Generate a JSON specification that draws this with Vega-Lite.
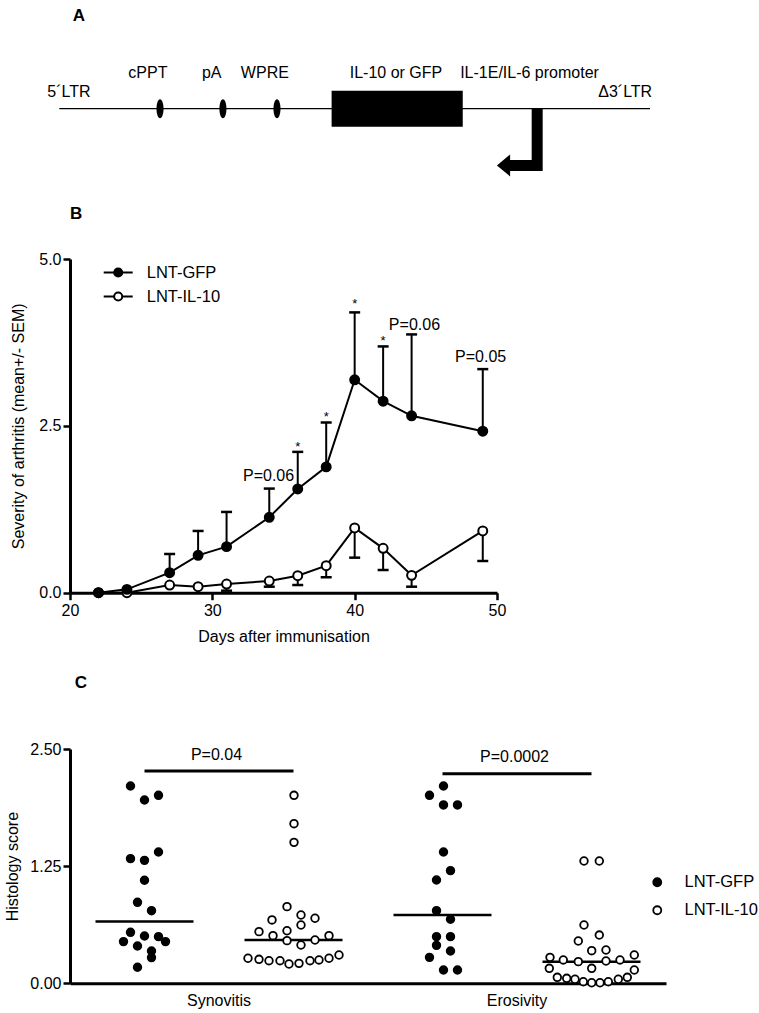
{
  "$schema": "https://vega.github.io/schema/vega-lite/v6.json",
  "width": 689,
  "height": 1013,
  "autosize": {"type": "none"},
  "padding": {"left": 70, "top": 0, "right": 0, "bottom": 0},
  "background": "white",
  "config": {
    "font": "Liberation Sans",
    "view": {"stroke": null},
    "axis": {"domainColor": "black", "domainWidth": 3, "tickColor": "black", "tickWidth": 2.5, "tickSize": 7, "labelColor": "black", "labelFontSize": 16, "labelFont": "Liberation Sans", "titleColor": "black", "titleFontSize": 16, "titleFontWeight": "normal", "titleFont": "Liberation Sans", "grid": false, "labelFlush": false, "labelOverlap": false},
    "legend": {"labelFont": "Liberation Sans", "labelFontSize": 16.5, "labelColor": "black"},
    "text": {"font": "Liberation Sans", "color": "black"}
  },
  "datasets": {
    "vector": [{"start": 0, "end": 100}],
    "gene": [{"start": 46.1, "end": 68.3, "label": "IL-10 or GFP"}],
    "elements": [{"name": "cPPT", "pos": 17.05}, {"name": "pA", "pos": 27.7}, {"name": "WPRE", "pos": 36.85}],
    "promoter": [{"x": 80.9, "y": 0, "step": 1}, {"x": 80.9, "y": -3.15, "step": 2}, {"x": 76.3, "y": -3.15, "step": 3}],
    "promoterHead": [{"x": 75.2, "y": -3.15}],
    "labels": [
      {"text": "5´LTR", "pos": 1.64, "level": 0.667},
      {"text": "cPPT", "pos": 15.0, "level": 1.71},
      {"text": "pA", "pos": 25.8, "level": 1.71},
      {"text": "WPRE", "pos": 34.8, "level": 1.71},
      {"text": "IL-10 or GFP", "pos": 57.0, "level": 1.71},
      {"text": "IL-1E/IL-6 promoter", "pos": 79.6, "level": 1.71},
      {"text": "Δ3´LTR", "pos": 95.8, "level": 0.667}
    ],
    "panels": [{"panel": "A", "pos": 3.33, "level": 4.87}, {"panel": "B", "pos": 2.83, "level": -6.13}, {"panel": "C", "pos": 3.67, "level": -32.18}],
    "arthritis": [
      {"day": 22, "group": "LNT-IL-10", "mean": 0, "bar": null},
      {"day": 24, "group": "LNT-IL-10", "mean": 0, "bar": null},
      {"day": 27, "group": "LNT-IL-10", "mean": 0.115, "bar": null},
      {"day": 29, "group": "LNT-IL-10", "mean": 0.09, "bar": null},
      {"day": 31, "group": "LNT-IL-10", "mean": 0.13, "bar": 0.03},
      {"day": 34, "group": "LNT-IL-10", "mean": 0.175, "bar": 0.09},
      {"day": 36, "group": "LNT-IL-10", "mean": 0.255, "bar": 0.115},
      {"day": 38, "group": "LNT-IL-10", "mean": 0.405, "bar": 0.23},
      {"day": 40, "group": "LNT-IL-10", "mean": 0.97, "bar": 0.525},
      {"day": 42, "group": "LNT-IL-10", "mean": 0.665, "bar": 0.34},
      {"day": 44, "group": "LNT-IL-10", "mean": 0.26, "bar": 0.09},
      {"day": 49, "group": "LNT-IL-10", "mean": 0.925, "bar": 0.475},
      {"day": 22, "group": "LNT-GFP", "mean": 0, "bar": null},
      {"day": 24, "group": "LNT-GFP", "mean": 0.05, "bar": null},
      {"day": 27, "group": "LNT-GFP", "mean": 0.30, "bar": 0.58},
      {"day": 29, "group": "LNT-GFP", "mean": 0.56, "bar": 0.925},
      {"day": 31, "group": "LNT-GFP", "mean": 0.69, "bar": 1.21},
      {"day": 34, "group": "LNT-GFP", "mean": 1.13, "bar": 1.56},
      {"day": 36, "group": "LNT-GFP", "mean": 1.555, "bar": 2.11},
      {"day": 38, "group": "LNT-GFP", "mean": 1.885, "bar": 2.55},
      {"day": 40, "group": "LNT-GFP", "mean": 3.19, "bar": 4.20},
      {"day": 42, "group": "LNT-GFP", "mean": 2.87, "bar": 3.69},
      {"day": 44, "group": "LNT-GFP", "mean": 2.65, "bar": 3.87},
      {"day": 49, "group": "LNT-GFP", "mean": 2.42, "bar": 3.35}
    ],
    "pvals": [{"day": 33.95, "y": 1.67, "label": "P=0.06"}, {"day": 44.2, "y": 3.94, "label": "P=0.06"}, {"day": 48.85, "y": 3.45, "label": "P=0.05"}],
    "stars": [{"day": 36, "y": 2.13, "label": "*"}, {"day": 38, "y": 2.58, "label": "*"}, {"day": 40, "y": 4.27, "label": "*"}, {"day": 42, "y": 3.71, "label": "*"}],
    "sig": [
      {"from": "Synovitis LNT-GFP", "to": "Synovitis LNT-IL-10", "y": 2.266, "label": "P=0.04", "label_y": 2.383},
      {"from": "Erosivity LNT-GFP", "to": "Erosivity LNT-IL-10", "y": 2.237, "label": "P=0.0002", "label_y": 2.365}
    ],
    "histology": [
      {"cat": "Synovitis LNT-GFP", "group": "LNT-GFP", "score": 2.105, "jitter": -14},
      {"cat": "Synovitis LNT-GFP", "group": "LNT-GFP", "score": 1.956, "jitter": 0},
      {"cat": "Synovitis LNT-GFP", "group": "LNT-GFP", "score": 2.006, "jitter": 14},
      {"cat": "Synovitis LNT-GFP", "group": "LNT-GFP", "score": 1.33, "jitter": -14},
      {"cat": "Synovitis LNT-GFP", "group": "LNT-GFP", "score": 1.312, "jitter": 0},
      {"cat": "Synovitis LNT-GFP", "group": "LNT-GFP", "score": 1.401, "jitter": 14},
      {"cat": "Synovitis LNT-GFP", "group": "LNT-GFP", "score": 1.10, "jitter": 0},
      {"cat": "Synovitis LNT-GFP", "group": "LNT-GFP", "score": 0.864, "jitter": -7},
      {"cat": "Synovitis LNT-GFP", "group": "LNT-GFP", "score": 0.775, "jitter": 7},
      {"cat": "Synovitis LNT-GFP", "group": "LNT-GFP", "score": 0.544, "jitter": -14},
      {"cat": "Synovitis LNT-GFP", "group": "LNT-GFP", "score": 0.445, "jitter": -21},
      {"cat": "Synovitis LNT-GFP", "group": "LNT-GFP", "score": 0.505, "jitter": 0},
      {"cat": "Synovitis LNT-GFP", "group": "LNT-GFP", "score": 0.498, "jitter": 14},
      {"cat": "Synovitis LNT-GFP", "group": "LNT-GFP", "score": 0.445, "jitter": 21},
      {"cat": "Synovitis LNT-GFP", "group": "LNT-GFP", "score": 0.398, "jitter": -7},
      {"cat": "Synovitis LNT-GFP", "group": "LNT-GFP", "score": 0.345, "jitter": 7},
      {"cat": "Synovitis LNT-GFP", "group": "LNT-GFP", "score": 0.274, "jitter": 7},
      {"cat": "Synovitis LNT-GFP", "group": "LNT-GFP", "score": 0.171, "jitter": -7},
      {"cat": "Synovitis LNT-IL-10", "group": "LNT-IL-10", "score": 2.006, "jitter": 0.5},
      {"cat": "Synovitis LNT-IL-10", "group": "LNT-IL-10", "score": 1.703, "jitter": 0.5},
      {"cat": "Synovitis LNT-IL-10", "group": "LNT-IL-10", "score": 1.504, "jitter": 0.5},
      {"cat": "Synovitis LNT-IL-10", "group": "LNT-IL-10", "score": 0.818, "jitter": -6.5},
      {"cat": "Synovitis LNT-IL-10", "group": "LNT-IL-10", "score": 0.676, "jitter": -21.5},
      {"cat": "Synovitis LNT-IL-10", "group": "LNT-IL-10", "score": 0.729, "jitter": 7.5},
      {"cat": "Synovitis LNT-IL-10", "group": "LNT-IL-10", "score": 0.694, "jitter": 21.5},
      {"cat": "Synovitis LNT-IL-10", "group": "LNT-IL-10", "score": 0.622, "jitter": 7.5},
      {"cat": "Synovitis LNT-IL-10", "group": "LNT-IL-10", "score": 0.551, "jitter": -34.5},
      {"cat": "Synovitis LNT-IL-10", "group": "LNT-IL-10", "score": 0.561, "jitter": -6.5},
      {"cat": "Synovitis LNT-IL-10", "group": "LNT-IL-10", "score": 0.508, "jitter": -20.5},
      {"cat": "Synovitis LNT-IL-10", "group": "LNT-IL-10", "score": 0.455, "jitter": -6.5},
      {"cat": "Synovitis LNT-IL-10", "group": "LNT-IL-10", "score": 0.409, "jitter": 7.5},
      {"cat": "Synovitis LNT-IL-10", "group": "LNT-IL-10", "score": 0.462, "jitter": 21.5},
      {"cat": "Synovitis LNT-IL-10", "group": "LNT-IL-10", "score": 0.508, "jitter": 35.5},
      {"cat": "Synovitis LNT-IL-10", "group": "LNT-IL-10", "score": 0.267, "jitter": -45.5},
      {"cat": "Synovitis LNT-IL-10", "group": "LNT-IL-10", "score": 0.256, "jitter": -34.5},
      {"cat": "Synovitis LNT-IL-10", "group": "LNT-IL-10", "score": 0.241, "jitter": -24.5},
      {"cat": "Synovitis LNT-IL-10", "group": "LNT-IL-10", "score": 0.241, "jitter": -13.5},
      {"cat": "Synovitis LNT-IL-10", "group": "LNT-IL-10", "score": 0.206, "jitter": -4.5},
      {"cat": "Synovitis LNT-IL-10", "group": "LNT-IL-10", "score": 0.213, "jitter": 5.5},
      {"cat": "Synovitis LNT-IL-10", "group": "LNT-IL-10", "score": 0.241, "jitter": 16.5},
      {"cat": "Synovitis LNT-IL-10", "group": "LNT-IL-10", "score": 0.249, "jitter": 25.5},
      {"cat": "Synovitis LNT-IL-10", "group": "LNT-IL-10", "score": 0.267, "jitter": 35.5},
      {"cat": "Synovitis LNT-IL-10", "group": "LNT-IL-10", "score": 0.302, "jitter": 45.5},
      {"cat": "Erosivity LNT-GFP", "group": "LNT-GFP", "score": 2.105, "jitter": 1},
      {"cat": "Erosivity LNT-GFP", "group": "LNT-GFP", "score": 2.006, "jitter": -13},
      {"cat": "Erosivity LNT-GFP", "group": "LNT-GFP", "score": 1.903, "jitter": 1},
      {"cat": "Erosivity LNT-GFP", "group": "LNT-GFP", "score": 1.903, "jitter": 15},
      {"cat": "Erosivity LNT-GFP", "group": "LNT-GFP", "score": 1.401, "jitter": 1},
      {"cat": "Erosivity LNT-GFP", "group": "LNT-GFP", "score": 1.202, "jitter": 8},
      {"cat": "Erosivity LNT-GFP", "group": "LNT-GFP", "score": 1.102, "jitter": -6},
      {"cat": "Erosivity LNT-GFP", "group": "LNT-GFP", "score": 0.775, "jitter": -6},
      {"cat": "Erosivity LNT-GFP", "group": "LNT-GFP", "score": 0.683, "jitter": 8},
      {"cat": "Erosivity LNT-GFP", "group": "LNT-GFP", "score": 0.498, "jitter": -6},
      {"cat": "Erosivity LNT-GFP", "group": "LNT-GFP", "score": 0.498, "jitter": 8},
      {"cat": "Erosivity LNT-GFP", "group": "LNT-GFP", "score": 0.405, "jitter": -6},
      {"cat": "Erosivity LNT-GFP", "group": "LNT-GFP", "score": 0.277, "jitter": -13},
      {"cat": "Erosivity LNT-GFP", "group": "LNT-GFP", "score": 0.345, "jitter": 8},
      {"cat": "Erosivity LNT-GFP", "group": "LNT-GFP", "score": 0.142, "jitter": 1},
      {"cat": "Erosivity LNT-GFP", "group": "LNT-GFP", "score": 0.142, "jitter": 15},
      {"cat": "Erosivity LNT-IL-10", "group": "LNT-IL-10", "score": 1.305, "jitter": -7.5},
      {"cat": "Erosivity LNT-IL-10", "group": "LNT-IL-10", "score": 1.305, "jitter": 7.8},
      {"cat": "Erosivity LNT-IL-10", "group": "LNT-IL-10", "score": 0.622, "jitter": -7.5},
      {"cat": "Erosivity LNT-IL-10", "group": "LNT-IL-10", "score": 0.515, "jitter": 7.8},
      {"cat": "Erosivity LNT-IL-10", "group": "LNT-IL-10", "score": 0.451, "jitter": -13.2},
      {"cat": "Erosivity LNT-IL-10", "group": "LNT-IL-10", "score": 0.348, "jitter": 0.2},
      {"cat": "Erosivity LNT-IL-10", "group": "LNT-IL-10", "score": 0.355, "jitter": 14.5},
      {"cat": "Erosivity LNT-IL-10", "group": "LNT-IL-10", "score": 0.277, "jitter": -41.5},
      {"cat": "Erosivity LNT-IL-10", "group": "LNT-IL-10", "score": 0.249, "jitter": -28.2},
      {"cat": "Erosivity LNT-IL-10", "group": "LNT-IL-10", "score": 0.231, "jitter": -13.2},
      {"cat": "Erosivity LNT-IL-10", "group": "LNT-IL-10", "score": 0.160, "jitter": 0.2},
      {"cat": "Erosivity LNT-IL-10", "group": "LNT-IL-10", "score": 0.238, "jitter": 14.5},
      {"cat": "Erosivity LNT-IL-10", "group": "LNT-IL-10", "score": 0.249, "jitter": 28.5},
      {"cat": "Erosivity LNT-IL-10", "group": "LNT-IL-10", "score": 0.302, "jitter": 42.8},
      {"cat": "Erosivity LNT-IL-10", "group": "LNT-IL-10", "score": 0.160, "jitter": -42.2},
      {"cat": "Erosivity LNT-IL-10", "group": "LNT-IL-10", "score": 0.142, "jitter": 42.8},
      {"cat": "Erosivity LNT-IL-10", "group": "LNT-IL-10", "score": 0.064, "jitter": -34.2},
      {"cat": "Erosivity LNT-IL-10", "group": "LNT-IL-10", "score": 0.053, "jitter": -24.8},
      {"cat": "Erosivity LNT-IL-10", "group": "LNT-IL-10", "score": 0.043, "jitter": -16.5},
      {"cat": "Erosivity LNT-IL-10", "group": "LNT-IL-10", "score": 0.017, "jitter": -8.2},
      {"cat": "Erosivity LNT-IL-10", "group": "LNT-IL-10", "score": 0.006, "jitter": 0.2},
      {"cat": "Erosivity LNT-IL-10", "group": "LNT-IL-10", "score": 0.006, "jitter": 8.5},
      {"cat": "Erosivity LNT-IL-10", "group": "LNT-IL-10", "score": 0.017, "jitter": 16.8},
      {"cat": "Erosivity LNT-IL-10", "group": "LNT-IL-10", "score": 0.043, "jitter": 26.8},
      {"cat": "Erosivity LNT-IL-10", "group": "LNT-IL-10", "score": 0.064, "jitter": 35.8}
    ]
  },
  "layer": [
    {
      "layer": [
        {
          "data": {"name": "vector"},
          "mark": {"type": "rule", "stroke": "black", "strokeWidth": 1.3},
          "encoding": {
            "x": {"field": "start", "type": "quantitative", "scale": {"domain": [0, 100], "range": [-10.7, 580], "zero": false, "nice": false}, "axis": null},
            "x2": {"field": "end"},
            "y": {"datum": 0, "type": "quantitative", "scale": {"domain": [-6, 6], "range": [216.7, 0.7], "zero": false, "nice": false}, "axis": null}
          }
        },
        {
          "data": {"name": "gene"},
          "mark": {"type": "rect", "fill": "black"},
          "encoding": {
            "x": {"field": "start", "type": "quantitative", "scale": {"domain": [0, 100], "range": [-10.7, 580], "zero": false, "nice": false}, "axis": null},
            "x2": {"field": "end"},
            "y": {"datum": -1, "type": "quantitative", "scale": {"domain": [-6, 6], "range": [216.7, 0.7], "zero": false, "nice": false}, "axis": null},
            "y2": {"datum": 1}
          }
        },
        {
          "data": {"name": "elements"},
          "mark": {"type": "point", "shape": "M0,-1A0.37,1 0 1,1 0,1A0.37,1 0 1,1 0,-1Z", "size": 361, "filled": true, "fill": "black", "opacity": 1, "strokeWidth": 0},
          "encoding": {
            "x": {"field": "pos", "type": "quantitative", "scale": {"domain": [0, 100], "range": [-10.7, 580], "zero": false, "nice": false}, "axis": null},
            "y": {"datum": 0, "type": "quantitative", "scale": {"domain": [-6, 6], "range": [216.7, 0.7], "zero": false, "nice": false}, "axis": null}
          }
        },
        {
          "data": {"name": "promoter"},
          "mark": {"type": "line", "stroke": "black", "strokeWidth": 11, "strokeCap": "butt", "strokeJoin": "miter"},
          "encoding": {
            "x": {"field": "x", "type": "quantitative", "scale": {"domain": [0, 100], "range": [-10.7, 580], "zero": false, "nice": false}, "axis": null},
            "y": {"field": "y", "type": "quantitative", "scale": {"domain": [-6, 6], "range": [216.7, 0.7], "zero": false, "nice": false}, "axis": null},
            "order": {"field": "step"}
          }
        },
        {
          "data": {"name": "promoterHead"},
          "mark": {"type": "point", "shape": "M-0.6,0L0.6,-1L0.6,1Z", "size": 484, "filled": true, "fill": "black", "opacity": 1, "strokeWidth": 0},
          "encoding": {
            "x": {"field": "x", "type": "quantitative", "scale": {"domain": [0, 100], "range": [-10.7, 580], "zero": false, "nice": false}, "axis": null},
            "y": {"field": "y", "type": "quantitative", "scale": {"domain": [-6, 6], "range": [216.7, 0.7], "zero": false, "nice": false}, "axis": null}
          }
        },
        {
          "data": {"name": "labels"},
          "mark": {"type": "text", "fontSize": 16, "align": "center", "baseline": "alphabetic"},
          "encoding": {
            "x": {"field": "pos", "type": "quantitative", "scale": {"domain": [0, 100], "range": [-10.7, 580], "zero": false, "nice": false}, "axis": null},
            "y": {"field": "level", "type": "quantitative", "scale": {"domain": [-6, 6], "range": [216.7, 0.7], "zero": false, "nice": false}, "axis": null},
            "text": {"field": "text"}
          }
        },
        {
          "data": {"name": "panels"},
          "mark": {"type": "text", "fontSize": 17, "fontWeight": "bold", "align": "center", "baseline": "alphabetic"},
          "encoding": {
            "x": {"field": "pos", "type": "quantitative", "scale": {"domain": [0, 100], "range": [-10.7, 580], "zero": false, "nice": false}, "axis": null},
            "y": {"field": "level", "type": "quantitative", "scale": {"domain": [-6, 6], "range": [216.7, 0.7], "zero": false, "nice": false}, "axis": null},
            "text": {"field": "panel"}
          }
        }
      ]
    },
    {
      "layer": [
        {
          "data": {"name": "arthritis"},
          "transform": [{"filter": "isValid(datum.bar)"}],
          "mark": {"type": "rule", "stroke": "black", "strokeWidth": 2},
          "encoding": {
            "x": {"field": "day", "type": "quantitative", "scale": {"domain": [20, 50], "range": [0, 427], "zero": false, "nice": false}, "axis": {"orient": "bottom", "offset": -420.3, "values": [20, 30, 40, 50], "title": "Days after immunisation", "labelPadding": 3, "titlePadding": 10}},
            "y": {"field": "mean", "type": "quantitative", "scale": {"domain": [0, 5], "range": [592.7, 259], "zero": false, "nice": false}, "axis": {"orient": "left", "values": [0, 2.5, 5], "format": ".1f", "title": "Severity of arthritis (mean+/- SEM)", "labelPadding": 2, "titlePadding": 12}},
            "y2": {"field": "bar"}
          }
        },
        {
          "data": {"name": "arthritis"},
          "transform": [{"filter": "isValid(datum.bar)"}],
          "mark": {"type": "tick", "orient": "horizontal", "color": "black", "thickness": 2.5, "size": 11, "opacity": 1},
          "encoding": {
            "x": {"field": "day", "type": "quantitative", "scale": {"domain": [20, 50], "range": [0, 427], "zero": false, "nice": false}, "axis": {"orient": "bottom", "offset": -420.3, "values": [20, 30, 40, 50], "title": "Days after immunisation", "labelPadding": 3, "titlePadding": 10}},
            "y": {"field": "bar", "type": "quantitative", "scale": {"domain": [0, 5], "range": [592.7, 259], "zero": false, "nice": false}, "axis": {"orient": "left", "values": [0, 2.5, 5], "format": ".1f", "title": "Severity of arthritis (mean+/- SEM)", "labelPadding": 2, "titlePadding": 12}}
          }
        },
        {
          "data": {"name": "arthritis"},
          "mark": {"type": "line", "stroke": "black", "strokeWidth": 2},
          "encoding": {
            "x": {"field": "day", "type": "quantitative", "scale": {"domain": [20, 50], "range": [0, 427], "zero": false, "nice": false}, "axis": {"orient": "bottom", "offset": -420.3, "values": [20, 30, 40, 50], "title": "Days after immunisation", "labelPadding": 3, "titlePadding": 10}},
            "y": {"field": "mean", "type": "quantitative", "scale": {"domain": [0, 5], "range": [592.7, 259], "zero": false, "nice": false}, "axis": {"orient": "left", "values": [0, 2.5, 5], "format": ".1f", "title": "Severity of arthritis (mean+/- SEM)", "labelPadding": 2, "titlePadding": 12}},
            "detail": {"field": "group"}
          }
        },
        {
          "data": {"name": "arthritis"},
          "mark": {"type": "point", "shape": "circle", "filled": true, "stroke": "black", "strokeWidth": 2, "size": 80, "opacity": 1},
          "encoding": {
            "x": {"field": "day", "type": "quantitative", "scale": {"domain": [20, 50], "range": [0, 427], "zero": false, "nice": false}, "axis": {"orient": "bottom", "offset": -420.3, "values": [20, 30, 40, 50], "title": "Days after immunisation", "labelPadding": 3, "titlePadding": 10}},
            "y": {"field": "mean", "type": "quantitative", "scale": {"domain": [0, 5], "range": [592.7, 259], "zero": false, "nice": false}, "axis": {"orient": "left", "values": [0, 2.5, 5], "format": ".1f", "title": "Severity of arthritis (mean+/- SEM)", "labelPadding": 2, "titlePadding": 12}},
            "fill": {"field": "group", "type": "nominal", "scale": {"domain": ["LNT-GFP", "LNT-IL-10"], "range": ["black", "white"]}, "legend": {"title": null, "orient": "none", "legendX": 32.7, "legendY": 257, "symbolType": "M-1,0L-0.28,0M0.28,0L1,0M-0.28,0A0.28,0.28 0 1,0 0.28,0A0.28,0.28 0 1,0 -0.28,0Z", "symbolSize": 841, "symbolStrokeColor": "black", "symbolStrokeWidth": 2, "labelOffset": 13, "rowPadding": -2.5, "padding": 0, "labelFontSize": 16.5}}
          }
        },
        {
          "data": {"name": "pvals"},
          "mark": {"type": "text", "fontSize": 16, "align": "center", "baseline": "alphabetic"},
          "encoding": {
            "x": {"field": "day", "type": "quantitative", "scale": {"domain": [20, 50], "range": [0, 427], "zero": false, "nice": false}, "axis": {"orient": "bottom", "offset": -420.3, "values": [20, 30, 40, 50], "title": "Days after immunisation", "labelPadding": 3, "titlePadding": 10}},
            "y": {"field": "y", "type": "quantitative", "scale": {"domain": [0, 5], "range": [592.7, 259], "zero": false, "nice": false}, "axis": {"orient": "left", "values": [0, 2.5, 5], "format": ".1f", "title": "Severity of arthritis (mean+/- SEM)", "labelPadding": 2, "titlePadding": 12}},
            "text": {"field": "label"}
          }
        },
        {
          "data": {"name": "stars"},
          "mark": {"type": "text", "fontSize": 13, "align": "center", "baseline": "alphabetic"},
          "encoding": {
            "x": {"field": "day", "type": "quantitative", "scale": {"domain": [20, 50], "range": [0, 427], "zero": false, "nice": false}, "axis": {"orient": "bottom", "offset": -420.3, "values": [20, 30, 40, 50], "title": "Days after immunisation", "labelPadding": 3, "titlePadding": 10}},
            "y": {"field": "y", "type": "quantitative", "scale": {"domain": [0, 5], "range": [592.7, 259], "zero": false, "nice": false}, "axis": {"orient": "left", "values": [0, 2.5, 5], "format": ".1f", "title": "Severity of arthritis (mean+/- SEM)", "labelPadding": 2, "titlePadding": 12}},
            "text": {"field": "label"}
          }
        }
      ]
    },
    {
      "layer": [
        {
          "data": {"name": "sig"},
          "mark": {"type": "rule", "stroke": "black", "strokeWidth": 3},
          "encoding": {
            "x": {"field": "from", "type": "nominal", "scale": {"type": "band", "domain": ["Synovitis LNT-GFP", "Synovitis LNT-IL-10", "Erosivity LNT-GFP", "Erosivity LNT-IL-10"], "range": [0, 596], "paddingInner": 0, "paddingOuter": 0}, "axis": {"orient": "bottom", "offset": -29.7, "ticks": false, "labelPadding": 9, "title": null, "labelAngle": 0, "labelOffset": 74.5, "labelExpr": "datum.value == 'Synovitis LNT-GFP' ? 'Synovitis' : (datum.value == 'Erosivity LNT-GFP' ? 'Erosivity' : '')"}},
            "x2": {"field": "to"},
            "y": {"field": "y", "type": "quantitative", "scale": {"domain": [0, 2.5], "range": [983.3, 749], "zero": false, "nice": false}, "axis": {"orient": "left", "values": [0, 1.25, 2.5], "format": ".2f", "title": "Histology score", "labelPadding": 2, "titlePadding": 9}}
          }
        },
        {
          "data": {"name": "sig"},
          "mark": {"type": "text", "fontSize": 16, "align": "center", "baseline": "alphabetic", "dx": 72},
          "encoding": {
            "x": {"field": "from", "type": "nominal", "scale": {"type": "band", "domain": ["Synovitis LNT-GFP", "Synovitis LNT-IL-10", "Erosivity LNT-GFP", "Erosivity LNT-IL-10"], "range": [0, 596], "paddingInner": 0, "paddingOuter": 0}, "axis": {"orient": "bottom", "offset": -29.7, "ticks": false, "labelPadding": 9, "title": null, "labelAngle": 0, "labelOffset": 74.5, "labelExpr": "datum.value == 'Synovitis LNT-GFP' ? 'Synovitis' : (datum.value == 'Erosivity LNT-GFP' ? 'Erosivity' : '')"}},
            "y": {"field": "label_y", "type": "quantitative", "scale": {"domain": [0, 2.5], "range": [983.3, 749], "zero": false, "nice": false}, "axis": {"orient": "left", "values": [0, 1.25, 2.5], "format": ".2f", "title": "Histology score", "labelPadding": 2, "titlePadding": 9}},
            "text": {"field": "label"}
          }
        },
        {
          "data": {"name": "histology"},
          "transform": [{"aggregate": [{"op": "median", "field": "score", "as": "median_score"}], "groupby": ["cat"]}],
          "mark": {"type": "tick", "color": "black", "thickness": 2.5, "size": 98, "opacity": 1},
          "encoding": {
            "x": {"field": "cat", "type": "nominal", "scale": {"type": "band", "domain": ["Synovitis LNT-GFP", "Synovitis LNT-IL-10", "Erosivity LNT-GFP", "Erosivity LNT-IL-10"], "range": [0, 596], "paddingInner": 0, "paddingOuter": 0}, "axis": {"orient": "bottom", "offset": -29.7, "ticks": false, "labelPadding": 9, "title": null, "labelAngle": 0, "labelOffset": 74.5, "labelExpr": "datum.value == 'Synovitis LNT-GFP' ? 'Synovitis' : (datum.value == 'Erosivity LNT-GFP' ? 'Erosivity' : '')"}},
            "y": {"field": "median_score", "type": "quantitative", "scale": {"domain": [0, 2.5], "range": [983.3, 749], "zero": false, "nice": false}, "axis": {"orient": "left", "values": [0, 1.25, 2.5], "format": ".2f", "title": "Histology score", "labelPadding": 2, "titlePadding": 9}}
          }
        },
        {
          "data": {"name": "histology"},
          "mark": {"type": "point", "shape": "circle", "filled": true, "stroke": "black", "strokeWidth": 1.8, "size": 58, "opacity": 1},
          "encoding": {
            "x": {"field": "cat", "type": "nominal", "scale": {"type": "band", "domain": ["Synovitis LNT-GFP", "Synovitis LNT-IL-10", "Erosivity LNT-GFP", "Erosivity LNT-IL-10"], "range": [0, 596], "paddingInner": 0, "paddingOuter": 0}, "axis": {"orient": "bottom", "offset": -29.7, "ticks": false, "labelPadding": 9, "title": null, "labelAngle": 0, "labelOffset": 74.5, "labelExpr": "datum.value == 'Synovitis LNT-GFP' ? 'Synovitis' : (datum.value == 'Erosivity LNT-GFP' ? 'Erosivity' : '')"}},
            "xOffset": {"field": "jitter", "type": "quantitative", "scale": {"domain": [-74.5, 74.5], "zero": false, "nice": false}},
            "y": {"field": "score", "type": "quantitative", "scale": {"domain": [0, 2.5], "range": [983.3, 749], "zero": false, "nice": false}, "axis": {"orient": "left", "values": [0, 1.25, 2.5], "format": ".2f", "title": "Histology score", "labelPadding": 2, "titlePadding": 9}},
            "fill": {"field": "group", "type": "nominal", "scale": {"domain": ["LNT-GFP", "LNT-IL-10"], "range": ["black", "white"]}, "legend": {"title": null, "orient": "none", "legendX": 579, "legendY": 874, "symbolType": "circle", "symbolSize": 64, "symbolStrokeColor": "black", "symbolStrokeWidth": 1.8, "labelOffset": 19, "rowPadding": 11, "padding": 0, "labelFontSize": 16.5}}
          }
        }
      ]
    }
  ],
  "resolve": {
    "scale": {"x": "independent", "y": "independent", "fill": "independent"},
    "axis": {"x": "independent", "y": "independent"},
    "legend": {"fill": "independent"}
  }
}
